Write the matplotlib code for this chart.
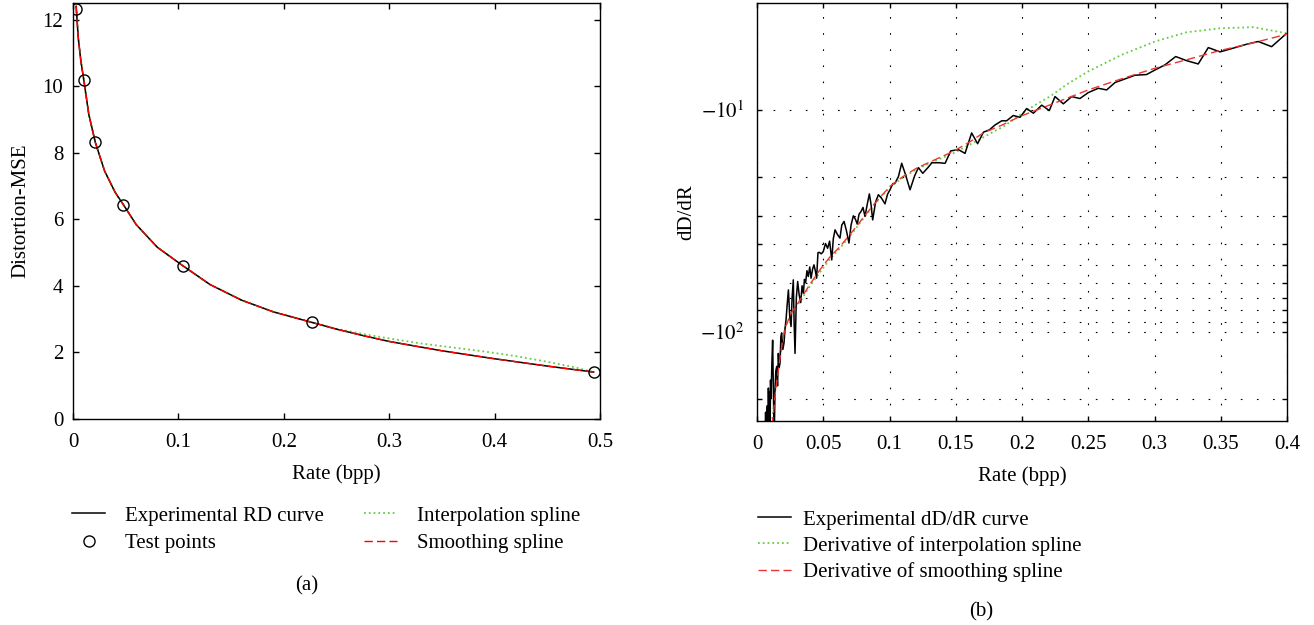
import numpy as np
import matplotlib
matplotlib.use('Agg')
import matplotlib.pyplot as plt
from matplotlib.ticker import FixedLocator, NullFormatter, NullLocator

############################## data ##############################

# (a) rate-distortion curve
rd_rate = [0.0030, 0.0050, 0.0075, 0.0102, 0.0150, 0.0212, 0.0300, 0.0400, 0.0478,
           0.0600, 0.0800, 0.1040, 0.1300, 0.1600, 0.1900, 0.2270, 0.2500, 0.2760,
           0.3000, 0.3500, 0.4000, 0.4500, 0.4940]
rd_mse = [12.40, 11.45, 10.75, 10.20, 9.15, 8.31, 7.45, 6.81, 6.44,
          5.84, 5.16, 4.61, 4.04, 3.57, 3.22, 2.90, 2.70, 2.50,
          2.33, 2.05, 1.81, 1.59, 1.41]

test_rate = [0.0032, 0.0102, 0.0212, 0.0478, 0.1040, 0.2270, 0.4940]
test_mse = [12.32, 10.20, 8.31, 6.44, 4.61, 2.90, 1.42]

interp_rate = [0.0030, 0.0050, 0.0075, 0.0102, 0.0150, 0.0212, 0.0300, 0.0400, 0.0478,
               0.0600, 0.0800, 0.1040, 0.1300, 0.1600, 0.1900, 0.2270, 0.2500, 0.2760,
               0.3000, 0.3300, 0.3600, 0.3900, 0.4200, 0.4500, 0.4750, 0.4940]
interp_mse = [12.40, 11.45, 10.75, 10.20, 9.15, 8.31, 7.45, 6.81, 6.44,
              5.84, 5.16, 4.61, 4.04, 3.57, 3.22, 2.90, 2.71, 2.55,
              2.42, 2.27, 2.15, 2.03, 1.89, 1.72, 1.56, 1.41]

smooth_rate = rd_rate
smooth_mse = rd_mse

# (b) slope dD/dR
exp_rate = [0.0060, 0.0065, 0.0070, 0.0074, 0.0078, 0.0082, 0.0086, 0.0090, 0.0094, 0.0098,
            0.0102, 0.0106, 0.0112, 0.0118, 0.0124, 0.0130, 0.0136, 0.0142, 0.0149, 0.0155,
            0.0161, 0.0167, 0.0174, 0.0180, 0.0186, 0.0195, 0.0204, 0.0212, 0.0219, 0.0228,
            0.0237, 0.0247, 0.0257, 0.0265, 0.0274, 0.0280, 0.0287, 0.0297, 0.0307, 0.0318,
            0.0330, 0.0340, 0.0350, 0.0358, 0.0367, 0.0377, 0.0387, 0.0398, 0.0408, 0.0420,
            0.0430, 0.0440, 0.0450, 0.0460, 0.0470, 0.0485, 0.0500, 0.0517, 0.0533, 0.0548,
            0.0564, 0.0576, 0.0589, 0.0608, 0.0626, 0.0640, 0.0657, 0.0675, 0.0694, 0.0710,
            0.0727, 0.0742, 0.0757, 0.0770, 0.0785, 0.0800, 0.0815, 0.0830, 0.0848, 0.0860,
            0.0873, 0.0895, 0.0916, 0.0940, 0.0966, 0.0985, 0.1004, 0.1025, 0.1041, 0.1067,
            0.1092, 0.1120, 0.1155, 0.1190, 0.1218, 0.1251, 0.1290, 0.1320, 0.1370, 0.1420,
            0.1462, 0.1520, 0.1570, 0.1620, 0.1665, 0.1709, 0.1754, 0.1796, 0.1847, 0.1884,
            0.1934, 0.1985, 0.2035, 0.2086, 0.2149, 0.2206, 0.2249, 0.2312, 0.2375, 0.2437,
            0.2500, 0.2576, 0.2639, 0.2702, 0.2777, 0.2853, 0.2940, 0.3004, 0.3079, 0.3160,
            0.3242, 0.3330, 0.3406, 0.3494, 0.3595, 0.3696, 0.3783, 0.3884, 0.3992]
exp_slope = [-300, -230, -320, -245, -215, -290, -179, -260, -186, -330,
             -165, -200, -140, -109, -190, -300, -182, -150, -143, -175,
             -125, -145, -138, -105, -101, -120, -112, -96, -88.3, -75,
             -64.7, -85, -94.6, -70, -58.3, -90, -125, -70, -59.3, -68,
             -73.8, -62, -67.0, -58, -60.0, -53, -56.3, -51, -57.3, -52,
             -49.9, -53, -57.3, -44, -43.8, -44.5, -43.5, -40, -42.0, -39,
             -47.4, -38, -34.7, -36.5, -37.8, -33, -31.8, -35, -39.8, -33,
             -30.0, -31, -32.7, -29.5, -28.7, -27.5, -30.2, -27, -23.9, -26.5,
             -31.3, -26, -24.1, -25, -26.5, -24, -22.9, -21.5, -21.4, -20.0,
             -17.4, -19.5, -22.9, -19.8, -18.2, -19.3, -18.2, -17.3, -17.3, -17.4,
             -15.3, -15.1, -15.7, -12.7, -14.2, -12.6, -12.3, -11.7, -11.2, -11.2,
             -10.6, -10.8, -9.86, -10.35, -9.52, -10.07, -8.71, -9.39, -8.71, -8.89,
             -8.36, -7.99, -8.13, -7.53, -7.25, -6.98, -6.93, -6.61, -6.27, -5.75,
             -6.00, -6.21, -5.24, -5.48, -5.27, -5.06, -4.92, -5.19, -4.55]

dinterp_rate = [0.0100, 0.0115, 0.0140, 0.0165, 0.0190, 0.0215, 0.0260, 0.0325, 0.0400,
                0.0475, 0.0550, 0.0626, 0.0725, 0.0828, 0.0915, 0.1004, 0.1100, 0.1205,
                0.1340, 0.1480, 0.1600, 0.1708, 0.1800, 0.1860, 0.2002, 0.2100, 0.2210,
                0.2350, 0.2500, 0.2752, 0.3004, 0.3242, 0.3494, 0.3746, 0.4000]
dinterp_slope = [-300, -250, -180, -140, -112, -95, -82, -73, -62,
                 -54, -47, -42, -35.5, -29.5, -25.5, -22.3, -20.2, -18.5,
                 -17.0, -15.7, -14.4, -13.3, -12.4, -11.9, -10.35, -9.5, -8.71,
                 -7.6, -6.71, -5.65, -4.92, -4.47, -4.29, -4.24, -4.52]

dsmooth_rate = [0.0105, 0.0118, 0.0140, 0.0165, 0.0190, 0.0211, 0.0260, 0.0325, 0.0400,
                0.0475, 0.0550, 0.0626, 0.0725, 0.0828, 0.0915, 0.1004, 0.1100, 0.1205,
                0.1340, 0.1480, 0.1600, 0.1708, 0.1850, 0.1985, 0.2250, 0.2500, 0.2750,
                0.3004, 0.3250, 0.3490, 0.3750, 0.4000]
dsmooth_slope = [-300, -251, -185, -143, -113, -96, -82, -71.8, -61,
                 -52.5, -46, -41.3, -35, -29.2, -25.3, -22.1, -20.0, -18.3,
                 -16.8, -15.4, -14.0, -12.7, -11.7, -10.7, -9.3, -8.13, -7.25,
                 -6.49, -5.93, -5.41, -4.98, -4.56]

xticks_a = [0, 0.1, 0.2, 0.3, 0.4, 0.5]
xlabels_a = ['0', '0.1', '0.2', '0.3', '0.4', '0.5']
yticks_a = [0, 2, 4, 6, 8, 10, 12]
xticks_b = [0, 0.05, 0.1, 0.15, 0.2, 0.25, 0.3, 0.35, 0.4]
xlabels_b = ['0', '0.05', '0.1', '0.15', '0.2', '0.25', '0.3', '0.35', '0.4']

################################### figure setup ###################################

plt.rcParams['font.family'] = ['Liberation Serif', 'DejaVu Serif']
plt.rcParams['mathtext.fontset'] = 'stix'
plt.rcParams['font.size'] = 15
plt.rcParams['axes.linewidth'] = 1.0

GREEN = '#66cc44'
dot_grid = (0, (1.5, 13))

fig = plt.figure(figsize=(13.14, 6.25), dpi=100)
ax1 = fig.add_axes([73 / 1314, 1 - 419 / 625, 527 / 1314, 416 / 625])
ax2 = fig.add_axes([757 / 1314, 1 - 421 / 625, 530 / 1314, 418 / 625])

################################### (a) RD curve ###################################

h_rd, = ax1.plot(rd_rate, rd_mse, color='k', lw=1.1, zorder=2)
h_int, = ax1.plot(interp_rate, interp_mse, color=GREEN, ls=':', lw=1.3, zorder=1)
h_sm, = ax1.plot(smooth_rate, smooth_mse, color='red', ls=(0, (6, 3)), lw=1.0, zorder=3)
h_tp, = ax1.plot(test_rate, test_mse, 'o', mfc='none', mec='k', ms=8, mew=1.0, zorder=4)

ax1.set_xlim(0, 0.5)
ax1.set_ylim(0, 12.5)
ax1.set_xticks(xticks_a)
ax1.set_xticklabels(xlabels_a)
ax1.set_yticks(yticks_a)
ax1.tick_params(direction='in', top=True, right=True, length=4.5, width=1.0)
ax1.tick_params(axis='x', pad=10)
ax1.tick_params(axis='y', pad=7)
ax1.set_xlabel('Rate (bpp)', labelpad=9)
ax1.set_ylabel('Distortion-MSE', labelpad=9)

fig.legend([h_rd, h_tp, h_int, h_sm],
           ['Experimental RD curve', 'Test points', 'Interpolation spline', 'Smoothing spline'],
           ncol=2, loc='upper left', bbox_to_anchor=(72 / 1314, 1 - 506 / 625),
           frameon=False, borderpad=0, borderaxespad=0, handlelength=1.6,
           handletextpad=0.95, columnspacing=1.9, labelspacing=0.38)
fig.text(307 / 1314, 1 - 586 / 625, '(a)', ha='center', va='center')

################################### (b) slope curve ###################################

# slopes are negative: draw their magnitude on a log axis, labelled as negative powers
g_exp, = ax2.plot(exp_rate, -np.array(exp_slope), color='k', lw=1.1, zorder=3)
g_int, = ax2.plot(dinterp_rate, -np.array(dinterp_slope), color=GREEN, ls=':', lw=1.3, zorder=2)
g_sm, = ax2.plot(dsmooth_rate, -np.array(dsmooth_slope), color='#ee3333', ls=(0, (6, 3)),
                 lw=1.0, zorder=4)

ax2.set_yscale('log')
ax2.set_xlim(0, 0.4)
ax2.set_ylim(252, 3.3)
ax2.set_xticks(xticks_b)
ax2.set_xticklabels(xlabels_b)
ax2.yaxis.set_major_locator(FixedLocator([10, 100]))
ax2.set_yticklabels([r'$-10^{1}$', r'$-10^{2}$'])
ax2.yaxis.set_minor_locator(FixedLocator([20, 30, 40, 50, 60, 70, 80, 90, 200]))
ax2.yaxis.set_minor_formatter(NullFormatter())
ax2.xaxis.set_minor_locator(NullLocator())
ax2.tick_params(which='both', direction='in', top=True, right=True, length=3.5, width=1.0)
ax2.tick_params(axis='x', pad=10)
ax2.tick_params(axis='y', pad=9)
ax2.grid(True, which='both', color='k', ls=dot_grid, lw=0.8)
ax2.set_xlabel('Rate (bpp)', labelpad=9)
ax2.set_ylabel('dD/dR', labelpad=3)

fig.legend([g_exp, g_int, g_sm],
           ['Experimental dD/dR curve', 'Derivative of interpolation spline',
            'Derivative of smoothing spline'],
           ncol=1, loc='upper left', bbox_to_anchor=(758 / 1314, 1 - 510 / 625),
           frameon=False, borderpad=0, borderaxespad=0, handlelength=1.6,
           handletextpad=0.55, labelspacing=0.3)
fig.text(981 / 1314, 1 - 612 / 625, '(b)', ha='center', va='center')

fig.savefig('out.png', dpi=100)
